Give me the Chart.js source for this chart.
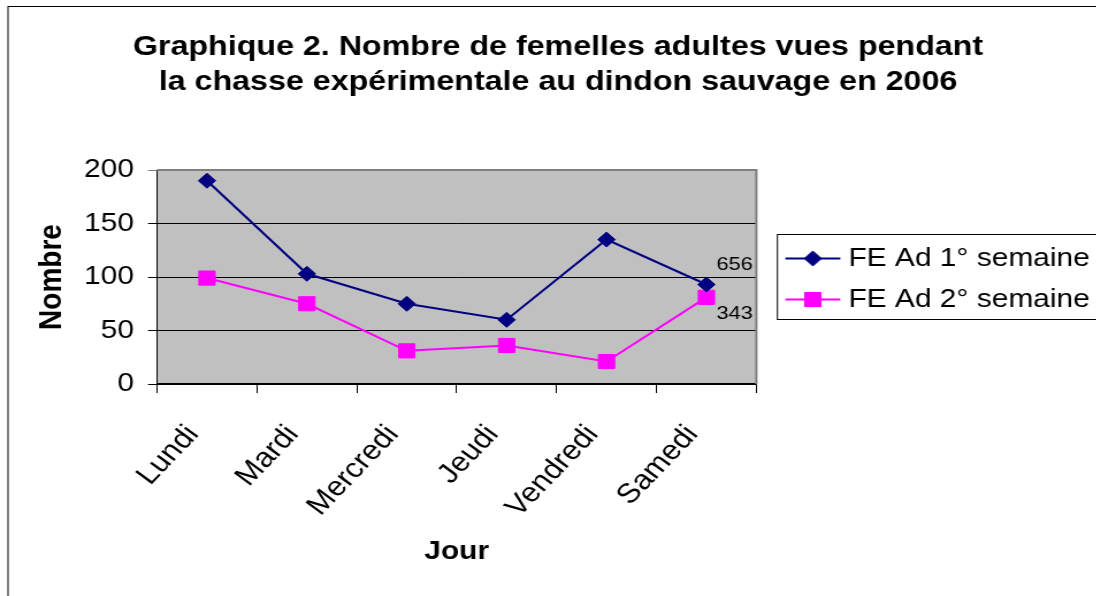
<!DOCTYPE html>
<html>
<head>
    <title>Graphique 2 - femelles adultes</title>
    <script src="https://cdn.jsdelivr.net/npm/chart.js"></script>
    <style>
        html, body { margin: 0; padding: 0; background: #fff; overflow: hidden; }
    </style>
</head>
<body>
    <!-- the original chart is a little stretched sideways, so the canvas is too -->
    <canvas id="chart" width="970" height="610" style="display:block;width:1115.5px;height:610px"></canvas>
    <script>
        const jours = ['Lundi', 'Mardi', 'Mercredi', 'Jeudi', 'Vendredi', 'Samedi'];
        const semaine1 = [190, 103, 75, 60, 135, 93];
        const semaine2 = [99, 75, 31, 36, 21, 81];
        const nomsSeries = ['FE Ad 1° semaine', 'FE Ad 2° semaine'];
        const yTicks = [0, 50, 100, 150, 200];
        const titre = ['Graphique 2. Nombre de femelles adultes vues pendant',
                       'la chasse expérimentale au dindon sauvage en 2006'];

        const police = '"Liberation Sans", Arial, sans-serif';

        // plot background, outer frame, totals next to the last point, and the boxed legend
        const cadre = {
            id: 'cadre',
            beforeDraw(chart) {
                const { ctx, chartArea: a } = chart;
                ctx.save();
                ctx.strokeStyle = '#000';
                ctx.lineWidth = 1;
                ctx.strokeRect(7, 6.5, 955, 598);
                ctx.fillStyle = '#C0C0C0';
                ctx.fillRect(a.left, a.top, a.right - a.left, a.bottom - a.top);
                ctx.restore();
            },
            beforeDatasetsDraw(chart) {
                const { ctx, chartArea: a } = chart;
                ctx.save();
                ctx.strokeStyle = '#808080';
                ctx.lineWidth = 2;
                ctx.beginPath();
                ctx.moveTo(a.left, a.top);
                ctx.lineTo(a.right, a.top);
                ctx.lineTo(a.right, a.bottom);
                ctx.stroke();
                ctx.restore();
            },
            afterDatasetsDraw(chart) {
                const ctx = chart.ctx;
                const decalY = [-20, 16];
                ctx.save();
                ctx.font = '19px ' + police;
                ctx.fillStyle = '#000';
                ctx.textBaseline = 'middle';
                ctx.textAlign = 'left';
                chart.data.datasets.forEach((ds, i) => {
                    const meta = chart.getDatasetMeta(i);
                    const pt = meta.data[meta.data.length - 1];
                    const total = ds.data.reduce((s, v) => s + v, 0);
                    ctx.fillText(String(total), pt.x + 8.7, pt.y + decalY[i]);
                });
                ctx.restore();
            },
            afterDraw(chart) {
                const ctx = chart.ctx;
                ctx.save();
                ctx.strokeStyle = '#000';
                ctx.lineWidth = 1;
                ctx.strokeRect(675.7, 234.5, 290, 85);
                chart.data.datasets.forEach((ds, i) => {
                    const y = 258.5 + i * 41;
                    ctx.strokeStyle = ds.borderColor;
                    ctx.lineWidth = ds.borderWidth;
                    ctx.beginPath();
                    ctx.moveTo(682.6, y);
                    ctx.lineTo(730.4, y);
                    ctx.stroke();
                    ctx.fillStyle = ds.backgroundColor;
                    ctx.lineWidth = 1;
                    Chart.helpers.drawPoint(ctx, { pointStyle: ds.pointStyle, radius: ds.pointRadius, borderWidth: 1, rotation: 0 }, 706.5, y);
                    ctx.fillStyle = '#000';
                    ctx.font = '26px ' + police;
                    ctx.textBaseline = 'middle';
                    ctx.textAlign = 'left';
                    ctx.fillText(ds.label, 737.4, y);
                });
                ctx.restore();
            }
        };

        new Chart(document.getElementById('chart'), {
            type: 'line',
            data: {
                labels: jours,
                datasets: [
                    {
                        label: nomsSeries[0],
                        data: semaine1,
                        borderColor: '#000080',
                        backgroundColor: '#000080',
                        borderWidth: 2,
                        pointStyle: 'rectRot',
                        pointRadius: 7.5,
                        pointBorderWidth: 1,
                        tension: 0
                    },
                    {
                        label: nomsSeries[1],
                        data: semaine2,
                        borderColor: '#FF00FF',
                        backgroundColor: '#FF00FF',
                        borderWidth: 2,
                        pointStyle: 'rect',
                        pointRadius: 10,
                        pointBorderWidth: 1,
                        tension: 0
                    }
                ]
            },
            options: {
                responsive: false,
                animation: false,
                layout: { padding: { left: 7, right: 7, top: 0, bottom: 10 } },
                plugins: {
                    legend: { display: false },
                    tooltip: { enabled: false },
                    title: {
                        display: true,
                        text: titre,
                        color: '#000',
                        font: { family: police, size: 28, weight: 'bold', lineHeight: 1.25 },
                        padding: { top: 29.5, bottom: 70.5 }
                    }
                },
                scales: {
                    x: {
                        type: 'category',
                        offset: true,
                        grid: { offset: true, drawOnChartArea: false, drawTicks: true, tickLength: 9, color: '#000' },
                        border: { color: '#000', width: 1.5 },
                        ticks: {
                            autoSkip: false, minRotation: 50, maxRotation: 50,
                            padding: 26, labelOffset: -12, color: '#000',
                            font: { family: police, size: 27.5 }
                        },
                        title: {
                            display: true, text: 'Jour', color: '#000',
                            font: { family: police, size: 26, weight: 'bold' },
                            padding: { top: 0, bottom: 32.4 }
                        },
                        afterFit(s) { s.height = 216; }
                    },
                    y: {
                        min: 0,
                        max: 200,
                        afterBuildTicks(s) { s.ticks = yTicks.map(v => ({ value: v })); },
                        grid: {
                            color: ctx => (ctx.tick && ctx.tick.value === 200 ? '#808080' : '#000'),
                            tickLength: 7.8
                        },
                        border: { color: '#000', width: 1 },
                        ticks: { padding: 12.2, color: '#000', font: { family: police, size: 26 } },
                        title: {
                            display: true, text: 'Nombre', color: '#000',
                            font: { family: police, size: 28, weight: 'bold' },
                            padding: { top: 21.4, bottom: 0 }
                        },
                        afterFit(s) { s.width = 129.5; }
                    },
                    marge: {
                        type: 'linear',
                        position: 'right',
                        display: true,
                        grid: { display: false },
                        border: { display: false },
                        ticks: { display: false },
                        afterFit(s) { s.width = 305.6; }
                    }
                }
            },
            plugins: [cadre]
        });
    </script>
</body>
</html>
